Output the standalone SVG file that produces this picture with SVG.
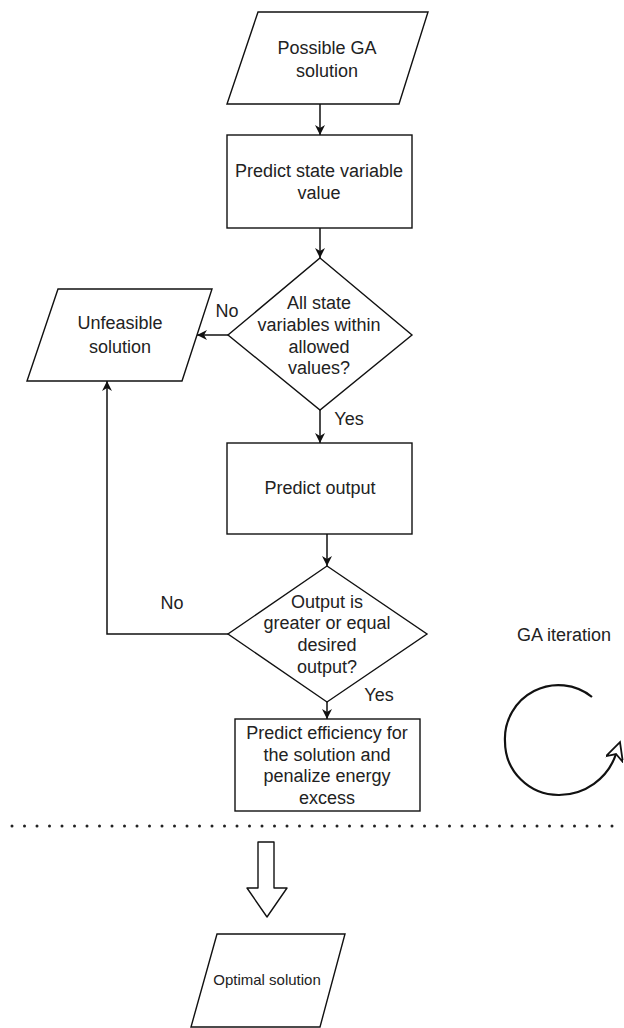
<svg xmlns="http://www.w3.org/2000/svg" width="624" height="1028" viewBox="0 0 624 1028">
<defs>
<style>
.sh{fill:#fff;stroke:#111;stroke-width:1.4}
.t{font-family:"Liberation Sans",Arial,sans-serif;font-size:18px;fill:#222;text-anchor:middle}
.ln{fill:none;stroke:#111;stroke-width:1.5}
</style>
<marker id="arr" viewBox="0 0 10 10" refX="10" refY="5" markerWidth="10" markerHeight="10" orient="auto" markerUnits="userSpaceOnUse">
<path d="M0,0 L10,5 L0,10 L3,5 z" fill="#111"/>
</marker>
<marker id="arrBig" viewBox="0 0 10 10" refX="3" refY="5" markerWidth="22" markerHeight="18" orient="auto" markerUnits="userSpaceOnUse">
<path d="M0,0 L10,5 L0,10 L3,5 z" fill="#fff" stroke="#111" stroke-width="1"/>
</marker>
</defs>

<g id="connectors">
<line class="ln" x1="320" y1="104" x2="320" y2="135" marker-end="url(#arr)"/>
<line class="ln" x1="320" y1="228" x2="320" y2="258" marker-end="url(#arr)"/>
<line class="ln" x1="228" y1="335" x2="197" y2="335" marker-end="url(#arr)"/>
<line class="ln" x1="320" y1="410" x2="320" y2="443" marker-end="url(#arr)"/>
<line class="ln" x1="327" y1="534" x2="327" y2="566" marker-end="url(#arr)"/>
<line class="ln" x1="327" y1="702" x2="327" y2="719" marker-end="url(#arr)"/>
<polyline class="ln" points="228,634 107,634 107,381" marker-end="url(#arr)"/>
<text class="t" x="227" y="317">No</text>
<text class="t" x="349" y="425">Yes</text>
<text class="t" x="172" y="609">No</text>
<text class="t" x="379" y="701">Yes</text>
</g>

<g id="n-possible">
<polygon class="sh" points="258,12 428,12 399,104 227,104"/>
<text class="t" x="327" y="54">Possible GA</text>
<text class="t" x="327" y="77">solution</text>
</g>

<g id="n-predict-state">
<rect class="sh" x="227" y="135" width="185" height="93"/>
<text class="t" x="319" y="177">Predict state variable</text>
<text class="t" x="319" y="199">value</text>
</g>

<g id="n-decision1">
<polygon class="sh" points="320,258 412,335 320,410 228,335"/>
<text class="t" x="319" y="309">All state</text>
<text class="t" x="319" y="331">variables within</text>
<text class="t" x="319" y="353">allowed</text>
<text class="t" x="319" y="374">values?</text>
</g>

<g id="n-unfeasible">
<polygon class="sh" points="58,289 212,289 182,381 27,381"/>
<text class="t" x="120" y="329">Unfeasible</text>
<text class="t" x="120" y="353">solution</text>
</g>

<g id="n-predict-output">
<rect class="sh" x="227" y="443" width="185" height="91"/>
<text class="t" x="320" y="494">Predict output</text>
</g>

<g id="n-decision2">
<polygon class="sh" points="327,566 427,634 327,702 228,634"/>
<text class="t" x="327" y="608">Output is</text>
<text class="t" x="327" y="629">greater or equal</text>
<text class="t" x="327" y="651">desired</text>
<text class="t" x="327" y="673">output?</text>
</g>

<g id="n-efficiency">
<rect class="sh" x="235" y="719" width="185" height="92"/>
<text class="t" x="327" y="739">Predict efficiency for</text>
<text class="t" x="327" y="761">the solution and</text>
<text class="t" x="327" y="782">penalize energy</text>
<text class="t" x="327" y="804">excess</text>
</g>

<g id="ga-iteration">
<text class="t" x="564" y="641">GA iteration</text>
<path d="M592,697 A53.5,53.5 0 0 0 505,741.5 A53.5,53.5 0 0 0 558.5,795 A60,60 0 0 0 616,754" fill="none" stroke="#111" stroke-width="2.2" marker-end="url(#arrBig)"/>
</g>

<g id="separator">
<line x1="12" y1="826" x2="624" y2="826" stroke="#222" stroke-width="3" stroke-linecap="round" stroke-dasharray="0 12.5"/>
</g>

<g id="block-arrow">
<polygon class="sh" points="258,842 274,842 274,888 287,888 267,917 247,888 258,888" stroke-linejoin="round"/>
</g>

<g id="n-optimal">
<polygon class="sh" points="217,934 345,934 320,1027 191,1027"/>
<text class="t" x="267" y="985" style="font-size:15px">Optimal solution</text>
</g>
</svg>
